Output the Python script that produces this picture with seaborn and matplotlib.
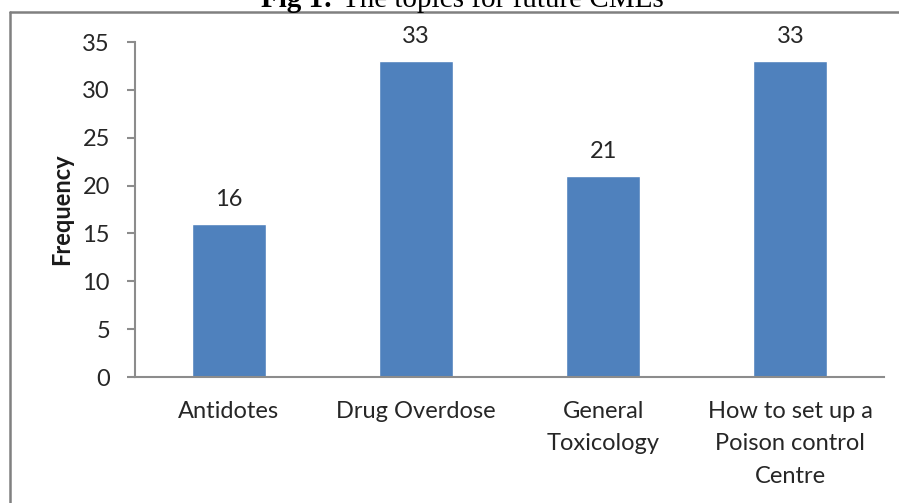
import matplotlib.pyplot as plt
import seaborn as sns
from matplotlib.lines import Line2D

# data
topics = ['Antidotes', 'Drug Overdose', 'General\nToxicology',
          'How to set up a\nPoison control\nCentre']
freq = [16, 33, 21, 33]

sns.set_style('white')
plt.rcParams['font.family'] = ['Lato', 'DejaVu Sans']

fig = plt.figure(figsize=(8.99, 5.03), dpi=100)
ax = fig.add_axes([135/899, 1-377/503, 749/899, 335/503])

sns.barplot(x=topics, y=freq, color='#4F81BD', width=0.395, saturation=1, ax=ax)
ax.bar_label(ax.containers[0], padding=10, fontsize=17, color='#262626')

ax.set_ylim(0, 35)
ax.set_xlim(-0.5, 3.5)
ax.set_yticks(range(0, 36, 5))
ax.set_ylabel('Frequency', fontsize=17, fontweight='bold', color='#1a1a1a')
ax.yaxis.set_label_coords(-0.083, 0.5)

for s in ['top', 'right']:
    ax.spines[s].set_visible(False)
for s in ['left', 'bottom']:
    ax.spines[s].set_color('#8c8c8c')
    ax.spines[s].set_linewidth(1.5)

ax.tick_params(axis='y', length=6, width=1.5, color='#8c8c8c', pad=12,
               labelsize=17, labelcolor='#262626', left=True)
ax.tick_params(axis='x', length=0, pad=17, labelsize=17, labelcolor='#262626')
for lab in ax.get_xticklabels():
    lab.set_linespacing(1.68)

# cut-off caption and frame
fig.text(333/899, 1-7/503, 'Fig 1:', ha='right', va='baseline',
         family='Liberation Serif', fontweight='bold', fontsize=21, color='black')
fig.text(342/899, 1-7/503, 'The topics for future CMEs', ha='left', va='baseline',
         family='Liberation Serif', fontsize=21, color='black')
fig.add_artist(Line2D([10/899, 1], [1-12/503, 1-12/503], color='#808080', lw=1.8,
                      transform=fig.transFigure))
fig.add_artist(Line2D([10/899, 10/899], [0, 1-12/503], color='#808080', lw=1.8,
                      transform=fig.transFigure))

fig.savefig('out.png', dpi=100)
